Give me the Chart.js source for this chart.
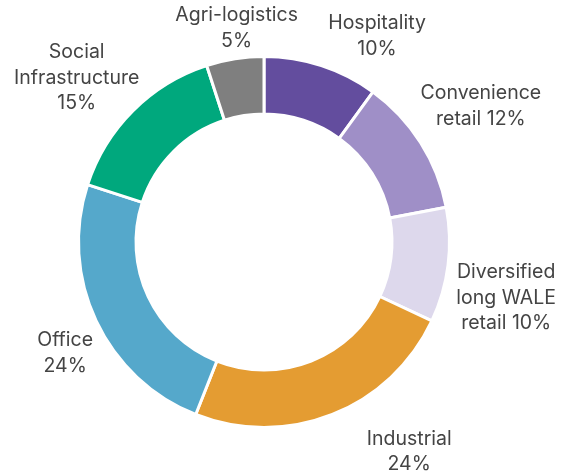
<!DOCTYPE html>
<html>
<head>
<meta charset="utf-8">
<script src="https://cdn.jsdelivr.net/npm/chart.js@4/dist/chart.umd.min.js"></script>
<style>
  html, body { margin: 0; padding: 0; background: #ffffff; }
  #wrap { width: 561px; height: 473px; }
</style>
</head>
<body>
<div id="wrap"><canvas id="portfolio"></canvas></div>
<script>
// Portfolio split by sector (% of total), clockwise from 12 o'clock
const sectors = ['Hospitality', 'Convenience retail', 'Diversified long WALE retail', 'Industrial', 'Office', 'Social Infrastructure', 'Agri-logistics'];
const shares = [10, 12, 10, 24, 24, 15, 5];
// Label text as printed beside each slice (line breaks included)
const labelLines = [
  ['Hospitality', '10%'],
  ['Convenience', 'retail 12%'],
  ['Diversified', 'long WALE', 'retail 10%'],
  ['Industrial', '24%'],
  ['Office', '24%'],
  ['Social', 'Infrastructure', '15%'],
  ['Agri-logistics', '5%']
];
const sliceColours = ['#634d9e', '#9f8fc7', '#ddd8ec', '#e49c32', '#55a8cb', '#00a87d', '#7f7f7f'];

// Where each label block sits: angle (deg, clockwise from top) and distance as a multiple of the outer radius
const labelPlacement = [
  { angle: 28.8, dist: 1.265 },
  { angle: 57.9, dist: 1.38 },
  { angle: 103.0, dist: 1.34 },
  { angle: 145.3, dist: 1.375 },
  { angle: 240.8, dist: 1.228 },
  { angle: 311.2, dist: 1.342 },
  { angle: 352.7, dist: 1.163 }
];

const sliceLabels = {
  id: 'sliceLabels',
  afterDatasetsDraw(chart) {
    const ctx = chart.ctx;
    const arcs = chart.getDatasetMeta(0).data;
    if (!arcs.length) return;
    const cx = arcs[0].x, cy = arcs[0].y;
    const r = arcs[0].outerRadius;
    const lineH = 25.5;
    ctx.save();
    ctx.font = '400 19.5px Inter, "Noto Sans", sans-serif';
    ctx.fillStyle = '#444444';
    ctx.textAlign = 'center';
    ctx.textBaseline = 'middle';
    labelLines.forEach((lines, i) => {
      const p = labelPlacement[i];
      const a = p.angle * Math.PI / 180;
      const bx = cx + Math.sin(a) * r * p.dist;
      const by = cy - Math.cos(a) * r * p.dist;
      const top = by - (lines.length - 1) * lineH / 2;
      lines.forEach((t, j) => ctx.fillText(t, bx, top + j * lineH));
    });
    ctx.restore();
  }
};

new Chart(document.getElementById('portfolio'), {
  type: 'doughnut',
  data: {
    labels: sectors,
    datasets: [{
      data: shares,
      backgroundColor: sliceColours,
      borderColor: '#ffffff',
      borderWidth: 3,
      hoverOffset: 0
    }]
  },
  options: {
    responsive: true,
    maintainAspectRatio: false,
    animation: false,
    cutout: '69%',
    layout: { padding: { left: 77, right: 110, top: 55, bottom: 44 } },
    plugins: {
      legend: { display: false },
      tooltip: { enabled: false }
    }
  },
  plugins: [sliceLabels]
});
</script>
</body>
</html>
